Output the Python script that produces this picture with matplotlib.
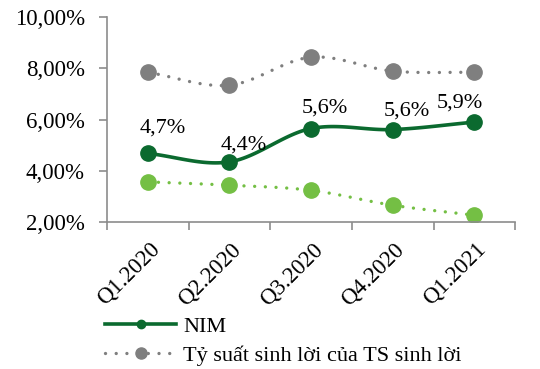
import numpy as np
import matplotlib
matplotlib.use("Agg")
import matplotlib.pyplot as plt
import matplotlib.transforms as mtransforms
from matplotlib.ticker import FuncFormatter, FixedLocator

plt.rcParams['font.family'] = ['Liberation Serif', 'DejaVu Serif']

categories = ["Q1.2020", "Q2.2020", "Q3.2020", "Q4.2020", "Q1.2021"]
nim = [4.68, 4.35, 5.65, 5.61, 5.90]
nim_labels = ["4,7%", "4,4%", "5,6%", "5,6%", "5,9%"]
yield_assets = [7.84, 7.34, 8.43, 7.89, 7.84]
cost_funds = [3.57, 3.44, 3.24, 2.66, 2.27]

DARK = "#0b6a2f"
GREY = "#7f7f7f"
LIGHT = "#74bf44"
AXC = "#8c8c8c"
DOT = (0, (0.01, 3.2))


def smooth(xs, ys, n=30):
    # Catmull-Rom spline (like Excel smoothed lines) through the data points
    xs = np.asarray(xs, float); ys = np.asarray(ys, float)
    P = np.column_stack([xs, ys])
    P = np.vstack([P[0] - (P[1] - P[0]), P, P[-1] + (P[-1] - P[-2])])
    out = []
    for i in range(1, len(P) - 2):
        p0, p1, p2, p3 = P[i - 1], P[i], P[i + 1], P[i + 2]
        t = np.linspace(0, 1, n)[:, None]
        seg = 0.5 * ((2 * p1) + (-p0 + p2) * t + (2 * p0 - 5 * p1 + 4 * p2 - p3) * t ** 2
                     + (-p0 + 3 * p1 - 3 * p2 + p3) * t ** 3)
        out.append(seg if i == 1 else seg[1:])
    out = np.vstack(out)
    return out[:, 0], out[:, 1]


fig = plt.figure(figsize=(5.4, 3.69), dpi=100)
ax = fig.add_axes([0.198, 0.398, 0.756, 0.556])

x = np.arange(len(categories))

sx, sy = smooth(x, yield_assets)
ax.plot(sx, sy, color=GREY, lw=2.4, ls=DOT, dash_capstyle='round')
ax.plot(x, yield_assets, ls='none', marker='o', ms=11, color=GREY)

sx, sy = smooth(x, cost_funds)
ax.plot(sx, sy, color=LIGHT, lw=2.4, ls=DOT, dash_capstyle='round')
ax.plot(x, cost_funds, ls='none', marker='o', ms=11, color=LIGHT)

sx, sy = smooth(x, nim)
ax.plot(sx, sy, color=DARK, lw=2.6, solid_capstyle='round')
ax.plot(x, nim, ls='none', marker='o', ms=11, color=DARK)

offsets = [(15, 25), (14, 17), (14, 20), (14, 19), (-15, 19)]
for xi, yi, lab, (dx, dy) in zip(x, nim, nim_labels, offsets):
    ax.annotate(lab, (xi, yi), xytext=(dx * 0.72, dy * 0.72), textcoords='offset points',
                ha='center', va='center', fontsize=16, color='black')

ax.set_xlim(-0.5, len(categories) - 0.5)
ax.set_ylim(2, 10)
ax.set_yticks([2, 4, 6, 8, 10])
ax.yaxis.set_major_formatter(FuncFormatter(lambda v, p: f"{v:.2f}".replace('.', ',') + "%"))

ax.set_xticks(x)
ax.set_xticklabels(categories, rotation=45, ha='right', va='top', rotation_mode='anchor')
ax.xaxis.set_minor_locator(FixedLocator(np.arange(-0.5, len(categories), 1.0)))
ax.tick_params(axis='x', which='major', length=0, pad=12, labelsize=16.5)
ax.tick_params(axis='x', which='minor', length=6, width=1.2, color=AXC)
ax.tick_params(axis='y', which='major', length=6, width=1.2, color=AXC, labelsize=16.5, pad=10)

shift = mtransforms.ScaledTranslation(1 / 100, 0, fig.dpi_scale_trans)
for lbl in ax.get_xticklabels():
    lbl.set_transform(lbl.get_transform() + shift)

for s in ['top', 'right']:
    ax.spines[s].set_visible(False)
for s in ['left', 'bottom']:
    ax.spines[s].set_color(AXC)
    ax.spines[s].set_linewidth(1.2)

h1, = ax.plot([], [], color=DARK, lw=2.6, marker='o', ms=6)
h2, = ax.plot([], [], color=GREY, lw=2.4, ls=DOT, dash_capstyle='round', marker='o', ms=8)
fig.legend([h1, h2], ["NIM", "Tỷ suất sinh lời của TS sinh lời"],
           loc='upper left', bbox_to_anchor=(0.195, 0.142), frameon=False,
           fontsize=16, handlelength=3.2, handletextpad=0.3, labelspacing=0.36,
           borderpad=0, borderaxespad=0)

fig.savefig("out.png", dpi=100)
